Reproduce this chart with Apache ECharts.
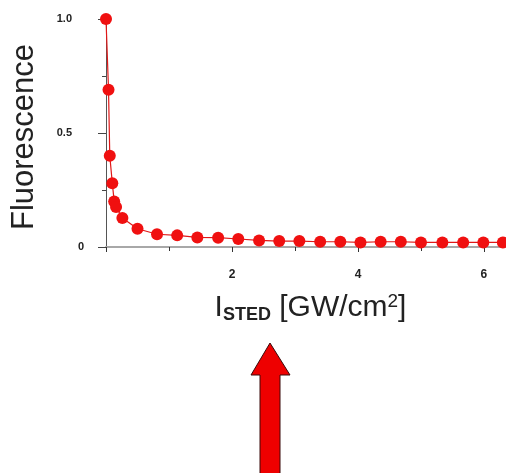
<!DOCTYPE html>
<html>
<head>
<meta charset="utf-8">
<script src="https://cdn.jsdelivr.net/npm/echarts@6/dist/echarts.min.js"></script>
<style>html,body{margin:0;padding:0;background:#fff;}#c{width:506px;height:473px;}</style>
</head>
<body>
<div id="c"></div>
<script>
var intensity = [0, 0.04, 0.06, 0.1, 0.13, 0.16, 0.26, 0.5, 0.81, 1.13, 1.45, 1.78, 2.1, 2.43, 2.75, 3.07, 3.4, 3.72, 4.04, 4.36, 4.68, 5.0, 5.34, 5.67, 5.99, 6.3];
var fluorescence = [1.0, 0.69, 0.40, 0.28, 0.20, 0.175, 0.127, 0.08, 0.056, 0.051, 0.042, 0.041, 0.035, 0.029, 0.026, 0.026, 0.023, 0.023, 0.02, 0.023, 0.023, 0.02, 0.02, 0.02, 0.02, 0.02];
var xTickLabels = ['2', '4', '6'];
var yTickLabels = ['0', '0.5', '1.0'];

var chart = echarts.init(document.getElementById('c'), null, {renderer: 'canvas'});
var pts = intensity.map(function (x, i) { return [x, fluorescence[i]]; });
var font = '"Liberation Sans", Arial, sans-serif';

chart.setOption({
  backgroundColor: '#ffffff',
  animation: false,
  grid: {left: 106, top: 19, right: 0, bottom: 226, containLabel: false},
  xAxis: {
    type: 'value', min: 0, max: 6.35, interval: 2,
    axisLine: {show: true, lineStyle: {color: '#a8a8a8', width: 2}},
    axisTick: {show: true, length: 5, lineStyle: {color: '#333'}},
    minorTick: {show: true, splitNumber: 2, length: 4, lineStyle: {color: '#333'}},
    splitLine: {show: false},
    axisLabel: {
      showMaxLabel: false, margin: 22, color: '#222', fontFamily: font, fontSize: 12, fontWeight: 'bold',
      formatter: function (v) { var s = String(v); return xTickLabels.indexOf(s) >= 0 ? s : ''; }
    },
    name: '{i|I}{s|STED}{t| [GW/cm}{p|2}{t|]}',
    nameLocation: 'middle', nameGap: 45,
    nameTextStyle: {
      color: '#222', fontFamily: font, padding: [0, 0, 0, 9],
      rich: {
        i: {fontSize: 30, lineHeight: 32, fontFamily: font, color: '#222'},
        s: {fontSize: 18, fontWeight: 'bold', lineHeight: 13, verticalAlign: 'bottom', fontFamily: font, color: '#222'},
        t: {fontSize: 30, lineHeight: 32, fontFamily: font, color: '#222'},
        p: {fontSize: 19, lineHeight: 24, verticalAlign: 'top', fontFamily: font, color: '#222'}
      }
    }
  },
  yAxis: {
    type: 'value', min: 0, max: 1, interval: 0.5,
    axisLine: {show: true, lineStyle: {color: '#555', width: 1}},
    axisTick: {show: true, length: 8, lineStyle: {color: '#444'}},
    minorTick: {show: true, splitNumber: 2, length: 4, lineStyle: {color: '#444'}},
    splitLine: {show: false},
    axisLabel: {
      margin: 22, color: '#222', fontFamily: font, fontSize: 11, fontWeight: 'bold',
      formatter: function (v) {
        var s = v === 0 ? '0' : (v === 1 ? '1.0' : String(v));
        if (yTickLabels.indexOf(s) < 0) return '';
        return s === '0' ? '{z|0}' : '{w|' + s + '}';
      },
      rich: {
        z: {fontSize: 11, fontWeight: 'bold', color: '#222', fontFamily: font},
        w: {fontSize: 11, fontWeight: 'bold', color: '#222', fontFamily: font, padding: [0, 12, 0, 0]}
      }
    },
    name: 'Fluorescence',
    nameLocation: 'middle', nameRotate: 90, nameGap: 66,
    nameTextStyle: {fontSize: 31, color: '#222', fontFamily: font, padding: [0, 8, 0, 0]}
  },
  series: [{
    type: 'line', data: pts, clip: false,
    symbol: 'circle', symbolSize: 12,
    lineStyle: {color: '#e01818', width: 1.2},
    itemStyle: {color: '#f01010'},
    z: 3
  }],
  graphic: [{
    type: 'polygon',
    shape: {points: [[270, 343], [290, 375], [280, 375], [280, 480], [260, 480], [260, 375], [251, 375]]},
    style: {fill: '#ee0000', stroke: '#3a0a0a', lineWidth: 1}
  }]
});
</script>
</body>
</html>
